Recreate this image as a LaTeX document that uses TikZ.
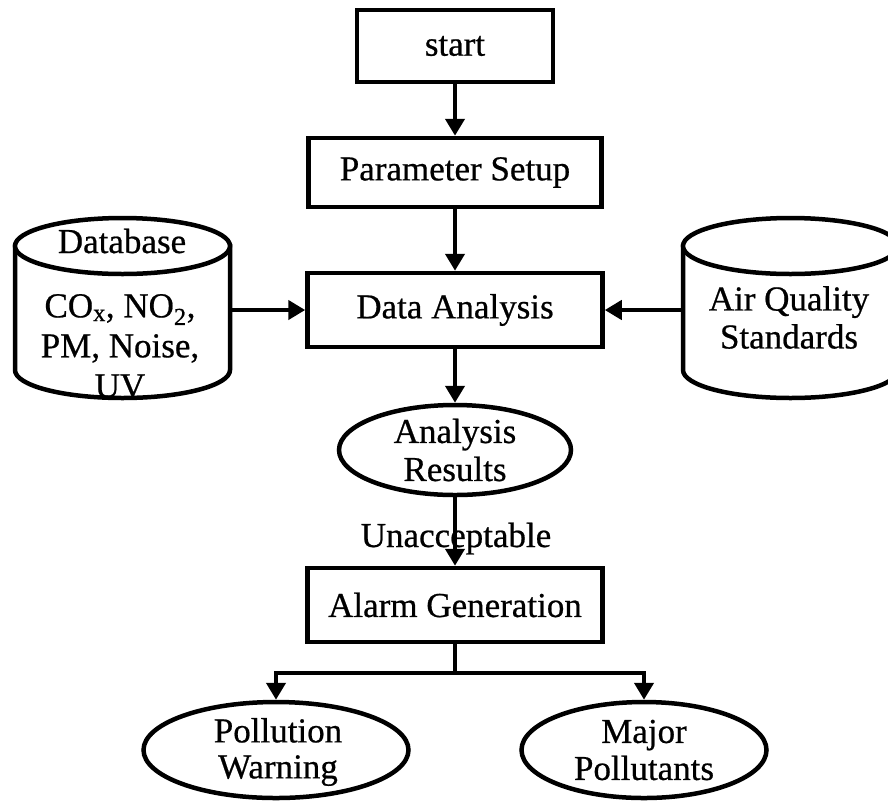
\documentclass[tikz,border=0pt]{standalone}
\usepackage{fontspec}
\setmainfont{Liberation Serif}[FakeBold=0.6]
\usetikzlibrary{arrows.meta,shapes.geometric}
\begin{document}
\begin{tikzpicture}[x=1pt,y=-1pt,
  lw/.style={line width=4.5pt},
  box/.style={draw,lw,rectangle,inner sep=0pt,fill=white},
  oval/.style={draw,lw,ellipse,inner sep=0pt,fill=white},
  lbl/.style={font=\fontsize{35}{37}\selectfont,align=center,inner sep=0pt},
  flow/.style={lw,-{Triangle[width=19pt,length=17pt]}},
  hold/.style={rectangle,inner sep=0pt,outer sep=0pt}]
\useasboundingbox (0,0) rectangle (888,801);

% process boxes
\node[box,minimum width=196pt,minimum height=72pt] (start) at (455,46) {};
\node[lbl] (startt) at (start) {start};
\node[box,minimum width=293pt,minimum height=69pt] (param) at (455,172.5) {};
\node[lbl] (paramt) at (param) {Parameter Setup};
\node[box,minimum width=295pt,minimum height=74pt] (ana) at (455,310) {};
\node[lbl] (anat) at (ana) {Data Analysis};
\node[box,minimum width=295pt,minimum height=74pt] (alarm) at (455,605) {};
\node[lbl] (alarmt) at (alarm) {Alarm Generation};

% result ovals
\node[oval,minimum width=232pt,minimum height=90pt] (res) at (455,450) {};
\node[lbl,font=\fontsize{35}{38}\selectfont] (rest) at (455,450) {Analysis\\Results};
\node[oval,minimum width=265pt,minimum height=96pt] (warn) at (276,750) {};
\node[lbl,font=\fontsize{35}{36}\selectfont] (warnt) at (278,752) {Pollution\\Warning};
\node[oval,minimum width=245pt,minimum height=96pt] (major) at (644,750) {};
\node[lbl] (majort) at (644,750) {Major\\Pollutants};

% data stores (cylinders)
\draw[lw,fill=white] (15,246) -- (15,370) arc[start angle=180,end angle=0,x radius=107.5,y radius=28] -- (230,246) -- cycle;
\draw[lw,fill=white] (122.5,246) ellipse[x radius=107.5,y radius=28];
\node[hold,minimum width=215pt,minimum height=180pt] (db) at (122.5,310) {};
\node[lbl,anchor=base] (dbt) at (122,253) {Database};
\node[lbl,font=\fontsize{35}{40}\selectfont] (dbc) at (120,346) {CO\textsubscript{x}, NO\textsubscript{2},\\PM, Noise,\\UV};

\draw[lw,fill=white] (683,246) -- (683,370) arc[start angle=180,end angle=0,x radius=107.5,y radius=28] -- (898,246) -- cycle;
\draw[lw,fill=white] (790.5,246) ellipse[x radius=107.5,y radius=28];
\node[hold,minimum width=215pt,minimum height=180pt] (aqs) at (790.5,310) {};
\node[lbl,font=\fontsize{35}{38}\selectfont] (aqst) at (789,317.5) {Air Quality\\Standards};

% condition label
\node[lbl,anchor=base] (unacc) at (456,547) {Unacceptable};

% connectors
\draw[flow] (start) -- (param);
\draw[flow] (param) -- (ana);
\draw[flow] (db.east) -- (db.east -| ana.west);
\draw[flow] (aqs.west) -- (aqs.west -| ana.east);
\draw[flow] (ana) -- (res);
\draw[flow] (res) -- (alarm);
\coordinate (bus) at (455,673);
\draw[flow] (alarm.south) -- (bus) -| (warn.north);
\draw[flow] (alarm.south) -- (bus) -| (major.north);
\end{tikzpicture}
\end{document}
